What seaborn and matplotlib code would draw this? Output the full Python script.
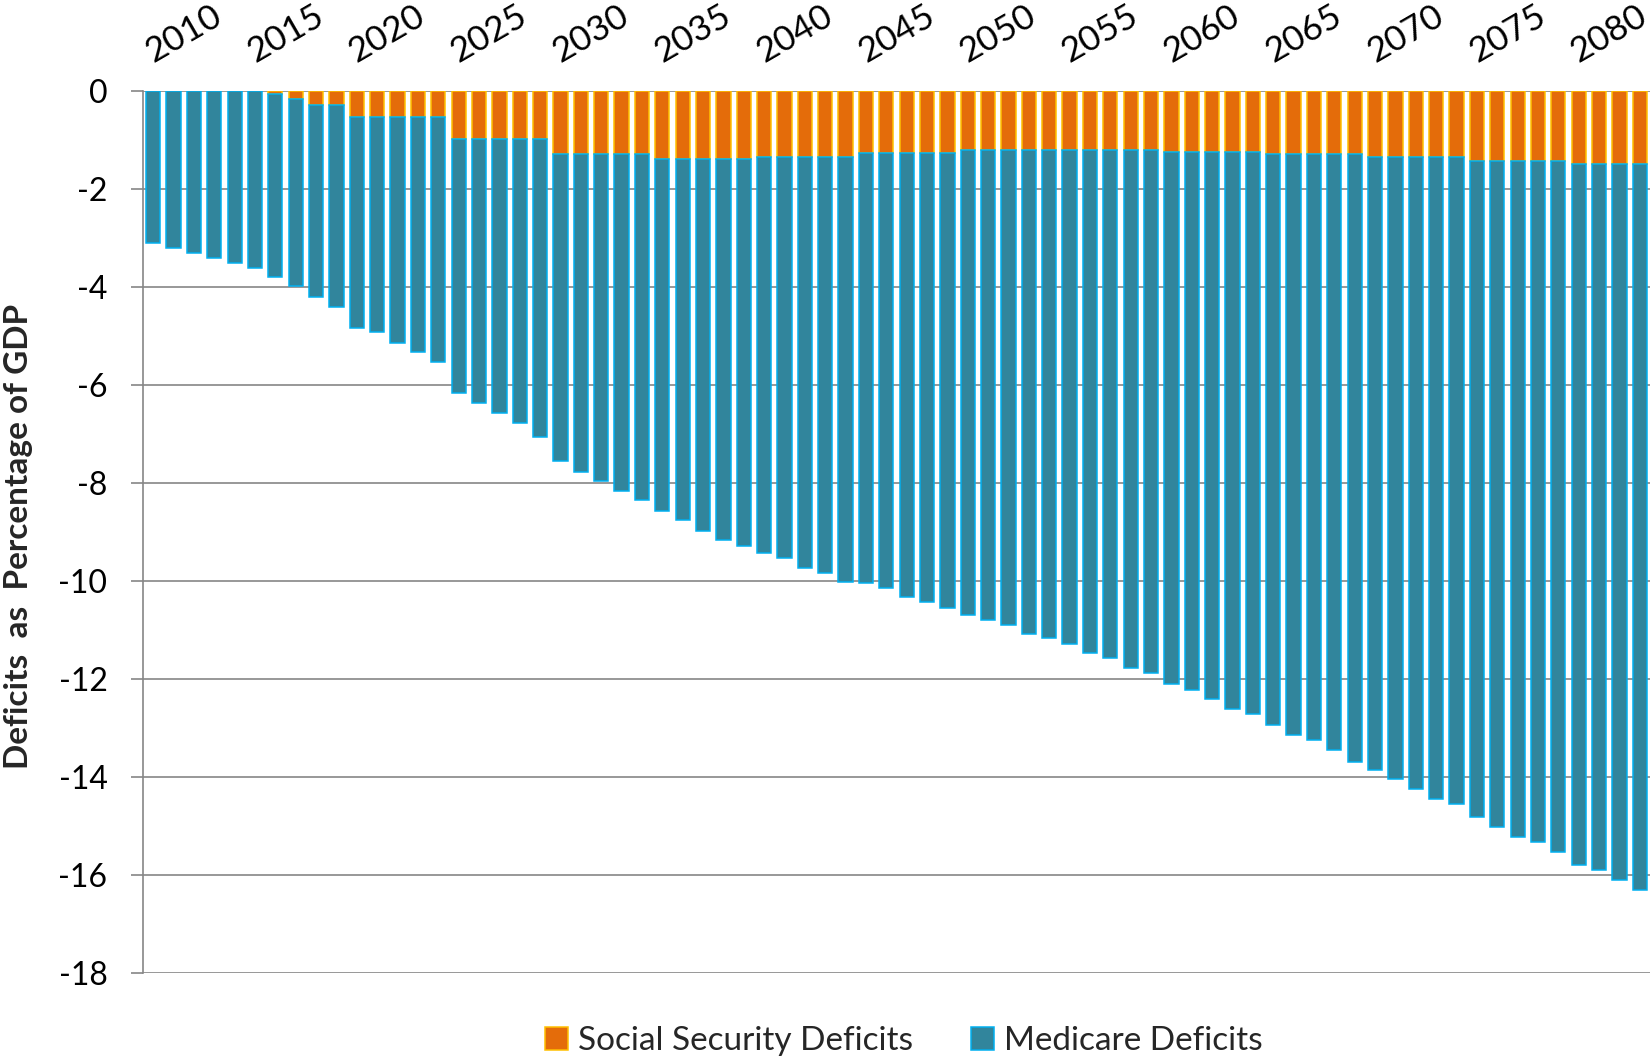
import numpy as np
import matplotlib
matplotlib.use("Agg")
import matplotlib.pyplot as plt
import seaborn as sns

# ---- data (percent of GDP, negative = deficit) ----
years = list(range(2010, 2084))
year_labels = [str(y) for y in years]

ss_deficit = ([0.0] * 6 + [-0.06, -0.17, -0.29, -0.29] + [-0.53] * 5 +
              [-0.98] * 5 + [-1.28] * 5 + [-1.39] * 5 + [-1.34] * 5 +
              [-1.26] * 5 + [-1.21] * 10 + [-1.24] * 5 + [-1.29] * 5 +
              [-1.35] * 5 + [-1.42] * 5 + [-1.50] * 4)

medicare_deficit = [
    -3.11, -3.21, -3.30, -3.41, -3.51, -3.61, -3.74, -3.82, -3.92, -4.12,
    -4.30, -4.40, -4.61, -4.80, -5.00,
    -5.18, -5.38, -5.59, -5.79, -6.09,
    -6.28, -6.49, -6.69, -6.88, -7.07,
    -7.18, -7.37, -7.59, -7.78, -7.89,
    -8.09, -8.20, -8.39, -8.50, -8.69,
    -8.79, -8.88, -9.07, -9.18, -9.29,
    -9.49, -9.59, -9.70, -9.87, -9.96, -10.07, -10.26, -10.37, -10.56, -10.67,
    -10.87, -10.98, -11.17, -11.37, -11.47,
    -11.66, -11.85, -11.96, -12.16, -12.40,
    -12.51, -12.70, -12.90, -13.11, -13.20,
    -13.41, -13.61, -13.81, -13.91, -14.11,
    -14.31, -14.41, -14.61, -14.81,
]

y_ticks = list(range(-18, 1, 2))
y_tick_labels = [str(v) for v in y_ticks]
x_tick_years = years[::5]

series_names = ["Social Security Deficits", "Medicare Deficits"]

# ---- style ----
sns.set_style("white")
plt.rcParams["font.family"] = ["Lato", "DejaVu Sans"]

W, H = 1650, 1061
fig = plt.figure(figsize=(W / 100, H / 100), dpi=100)
ax_left, ax_top, ax_bottom = 143, 91, 972.7
ax = fig.add_axes([ax_left / W, 1 - ax_bottom / H, (W - ax_left) / W, (ax_bottom - ax_top) / H])

orange, orange_edge = "#E46C0A", "#FFC000"
teal, teal_edge = "#31859C", "#00B0F0"

sns.barplot(x=year_labels, y=ss_deficit, color=orange, saturation=1,
            edgecolor=orange_edge, linewidth=1.1, width=0.7, errorbar=None,
            ax=ax, zorder=2)
sns.barplot(x=year_labels, y=medicare_deficit, bottom=np.array(ss_deficit),
            color=teal, saturation=1, edgecolor=teal_edge, linewidth=1.1,
            width=0.7, errorbar=None, ax=ax, zorder=3)

ax.set_xlim(-0.5, len(years) - 0.5)
ax.set_ylim(-18, 0)

# y axis
ax.set_yticks(y_ticks)
ax.set_yticklabels(y_tick_labels)
ax.tick_params(axis="y", which="major", left=True, length=8.6, width=1.2,
               color="#868686", pad=17, labelsize=23, labelcolor="black")
ax.yaxis.grid(True, color="#868686", linewidth=1.2)
ax.set_axisbelow(True)

for s in ["top", "right", "bottom"]:
    ax.spines[s].set_visible(False)
ax.spines["left"].set_color("#868686")
ax.spines["left"].set_linewidth(1.2)

# x axis labels on top
ax.xaxis.set_ticks_position("top")
ax.set_xticks([years.index(y) for y in x_tick_years])
ax.set_xticklabels([str(y) for y in x_tick_years])
ax.tick_params(axis="x", length=0, pad=20, labelsize=25.5, labelcolor="black")
for lab in ax.get_xticklabels():
    lab.set_rotation(30)
    lab.set_ha("left")
    lab.set_va("baseline")
    lab.set_rotation_mode("anchor")
ax.set_xlabel("")
ax.set_ylabel("")

fig.text(19 / W, 1 - 536 / H, "Deficits  as  Percentage of GDP", rotation=90,
         ha="center", va="center", fontsize=24, fontweight="bold")

handles = [ax.containers[0], ax.containers[1]]
leg = fig.legend(handles, series_names, loc="center", bbox_to_anchor=(904 / W, 1 - 1041 / H),
                 ncol=2, frameon=False, fontsize=24, handlelength=0.68, handleheight=0.68,
                 handletextpad=0.3, columnspacing=1.75, borderaxespad=0)

fig.savefig("out.png", dpi=100)
